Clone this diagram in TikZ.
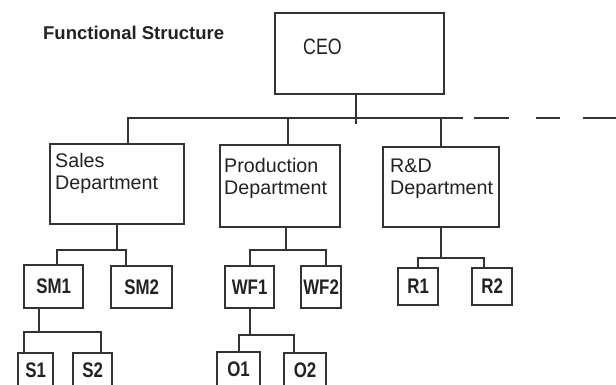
\documentclass[tikz,border=0pt]{standalone}
\usepackage{fontspec}
\setmainfont{Liberation Sans}
\newfontfamily\narrowsf{Liberation Sans}[FakeStretch=0.8]
\usetikzlibrary{calc}
\newcommand\px{0.03cm}
\definecolor{linecol}{HTML}{333333}
\definecolor{txtcol}{HTML}{222222}

\begin{document}
\begin{tikzpicture}[x=\px, y=-\px,
  %% caixas
  unit/.style={draw=linecol, line width=1.9pt, fill=white, anchor=north west,
    inner sep=0pt, text=txtcol},
  small/.style={unit, font=\narrowsf\bfseries\fontsize{18}{20}\selectfont},
  boxsize/.style 2 args={minimum width=#1*\px, minimum height=#2*\px},
  %% textos dos departamentos
  dtext/.style={anchor=north west, align=left, inner sep=0pt, text=txtcol,
    font=\fontsize{16.8}{18.8}\selectfont},
  %% linhas
  link/.style={draw=linecol, line width=1.9pt},
  title/.style={font=\bfseries\fontsize{15.8}{18}\selectfont, text=txtcol, anchor=west}
]
\useasboundingbox (0,0) rectangle (616,384);
\clip (0,0) rectangle (616,384);

%% ================================================================
%% TOPO
%% ================================================================
\node[title] (title) at (39,33) {Functional Structure};

\node[unit, boxsize={169}{81},
  label={[dtext, font=\narrowsf\fontsize{19}{21}\selectfont,
    xshift=29*\px, yshift=-27*\px]north west:CEO}] (ceo) at (274,12) {};

%% ================================================================
%% DEPARTAMENTOS
%% ================================================================
\node[unit, boxsize={134}{80},
  label={[dtext, xshift=6*\px, yshift=-10*\px]north west:Sales\\Department}]
  (sales) at (49,143) {};
\node[unit, boxsize={120}{82},
  label={[dtext, xshift=5*\px, yshift=-14*\px]north west:Production\\Department}]
  (prod) at (219,144) {};
\node[unit, boxsize={116}{80},
  label={[dtext, xshift=8*\px, yshift=-13*\px]north west:R\&D\\Department}]
  (rnd) at (382,146) {};

%% ================================================================
%% SUBNIVEIS
%% ================================================================
\node[small, boxsize={59}{43}] (sm1) at (23,264) {SM1};
\node[small, boxsize={61}{42}] (sm2) at (110,265) {SM2};
\node[small, boxsize={49}{42}] (wf1) at (224,265) {WF1};
\node[small, boxsize={40}{42}] (wf2) at (300,265) {WF2};
\node[small, boxsize={40}{37}] (r1) at (397,267) {R1};
\node[small, boxsize={40}{37}] (r2) at (471,267) {R2};

\node[small, boxsize={35}{34}] (s1) at (17,352) {S1};
\node[small, boxsize={39}{34}] (s2) at (72,352) {S2};
\node[small, boxsize={43}{34}] (o1) at (216,351) {O1};
\node[small, boxsize={42}{34}] (o2) at (283,352) {O2};

%% ================================================================
%% LIGACOES
%% ================================================================
\coordinate (busR) at (463,118);
\coordinate (dashS) at (474,118);
\coordinate (busEnd) at (616,118);

\draw[link] ($(ceo.south)+(-4,0)$) -- ++(0,29);
\draw[link] ($(sales.north)+(11,0)$) |- (busR);
\draw[link] ($(prod.north)+(8,0)$) -- ++(0,-26);
\draw[link] (rnd.north) -- ++(0,-28);
\draw[link, dash pattern=on 1.05cm off 0.81cm on 0.72cm off 0.69cm on 1.2cm off 0.5cm]
  (dashS) -- (busEnd);

%% vendas
\draw[link] (sales.south) -- ++(0,25) coordinate (salesJ);
\draw[link] ($(sm1.north)+(3,0)$) |- (salesJ) -| ($(sm2.north)+(-16,0)$);
\draw[link] ($(sm1.south)+(-15,0)$) -- ++(0,23) coordinate (sm1J);
\draw[link] ($(s1.north)+(-12,0)$) |- (sm1J) -| ($(s2.north)+(8,0)$);

%% producao
\draw[link] ($(prod.south)+(6,0)$) -- ++(0,22) coordinate (prodJ);
\draw[link] (wf1.north) |- (prodJ) -| ($(wf2.north)+(5,0)$);
\draw[link] (wf1.south) -- ++(0,26) coordinate (wf1J);
\draw[link] (o1.north) |- (wf1J) -| ($(o2.north)+(-11,0)$);

%% P&D
\draw[link] (rnd.south) -- ++(0,30) coordinate (rndJ);
\draw[link] (r1.north) |- (rndJ) -| ($(r2.north)+(-8,0)$);

\end{tikzpicture}
\end{document}
